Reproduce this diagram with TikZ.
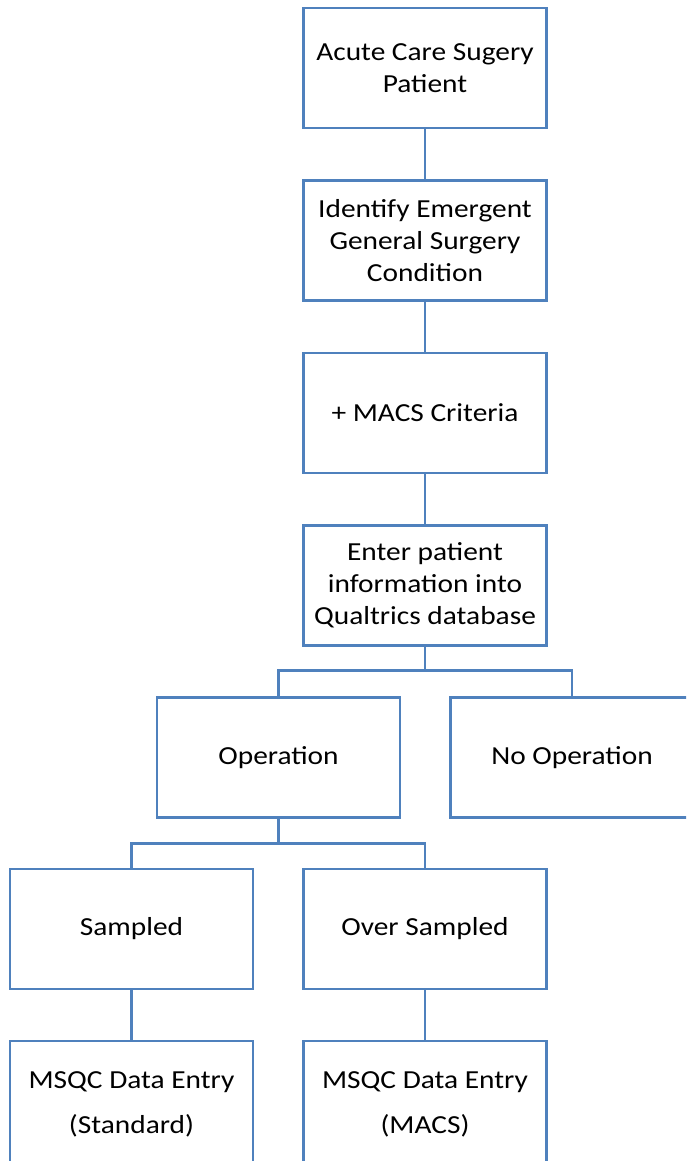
\documentclass[tikz,border=0pt]{standalone}
\usepackage{fontspec}
\setmainfont{Carlito}[FakeStretch=1.13]
\definecolor{boxblue}{HTML}{4F81BD}
\begin{document}
\begin{tikzpicture}[x=1pt,y=-1pt,
  box/.style={draw=boxblue,line width=2.6pt,fill=white,minimum width=243pt,minimum height=120pt,inner sep=0pt,align=center,font=\fontsize{26}{32}\selectfont,text=black},
  tallbox/.style={box,minimum height=126pt,font=\fontsize{26}{45}\selectfont},
  link/.style={draw=boxblue,line width=2.6pt}]
\fill[white] (0,0) rectangle (686,1161);
\clip (0,0) rectangle (686,1161);
\node[box] (b1) at (425,68) {Acute Care Sugery\\Patient};
\node[box] (b2) at (425,240.5) {Identify Emergent\\General Surgery\\Condition};
\node[box] (b3) at (425,413) {+ MACS Criteria};
\node[box] (b4) at (425,585.5) {Enter patient\\information into\\Qualtrics database};
\node[box] (op) at (278.5,757.5) {Operation};
\node[box] (noop) at (572,757.5) {No Operation};
\node[box] (samp) at (131.5,929) {Sampled};
\node[box] (over) at (425,929) {Over Sampled};
\node[tallbox] (ms1) at (131.5,1104) {MSQC Data Entry\\(Standard)};
\node[tallbox] (ms2) at (425,1104) {MSQC Data Entry\\(MACS)};
\coordinate (j1) at (425,670.7);
\coordinate (j2) at (278.5,843.3);
\draw[link] (b1) -- (b2);
\draw[link] (b2) -- (b3);
\draw[link] (b3) -- (b4);
\draw[link] (b4) -- (j1);
\draw[link] (op.north) |- (j1) -| (noop.north);
\draw[link] (op) -- (j2);
\draw[link] (samp.north) |- (j2) -| (over.north);
\draw[link] (samp) -- (ms1);
\draw[link] (over) -- (ms2);
\end{tikzpicture}
\end{document}
